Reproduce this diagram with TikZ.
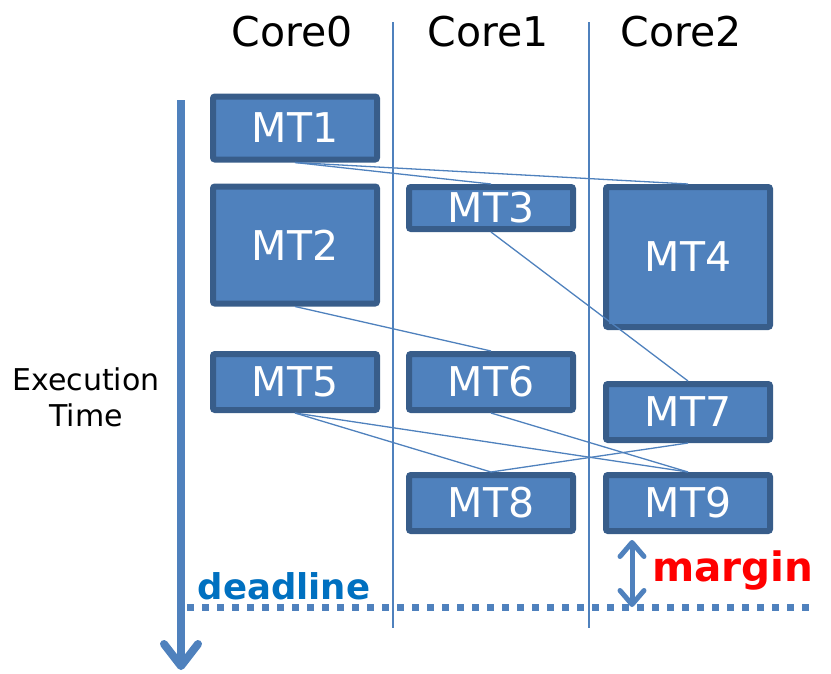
\documentclass[tikz,border=0pt]{standalone}
\usepackage{fontspec}
\setmainfont{DejaVu Sans}
\usetikzlibrary{arrows.meta}
\definecolor{taskfill}{HTML}{4F81BD}
\definecolor{taskline}{HTML}{385D8A}
\definecolor{deadblue}{HTML}{0070C0}
\tikzset{
  mt/.style={draw=taskline, fill=taskfill, line width=6pt, rounded corners=2pt,
    minimum width=164pt, inner sep=0pt, text=white, font=\fontsize{41}{44}\selectfont},
  core/.style={font=\fontsize{41}{44}\selectfont},
  dep/.style={draw=taskfill, line width=1.3pt},
  sep/.style={draw=taskfill, line width=1.5pt},
}
\begin{document}
\begin{tikzpicture}[x=1pt,y=-1pt]
      \useasboundingbox (0,0) rectangle (831,673);
      \draw
        (292,32) node[core] (c0){Core0}
        (488,32) node[core] (c1){Core1}
        (681,32) node[core] (c2){Core2}
        (86,397) node[align=center, font=\fontsize{30}{36}\selectfont] (et){Execution\\Time};
      \draw[sep] (393,22) -- (393,628);
      \draw[sep] (589,22) -- (589,628);
      \draw
        (295,128) node[mt, minimum height=63pt] (mt1){MT1}
        (295,245) node[mt, minimum height=117pt] (mt2){MT2}
        (491,208) node[mt, minimum height=42pt] (mt3){MT3}
        (688,257) node[mt, minimum height=140pt] (mt4){MT4}
        (295,382) node[mt, minimum height=56pt] (mt5){MT5}
        (491,382) node[mt, minimum height=56pt] (mt6){MT6}
        (688,412) node[mt, minimum height=56pt] (mt7){MT7}
        (491,503) node[mt, minimum height=56pt] (mt8){MT8}
        (688,503) node[mt, minimum height=56pt] (mt9){MT9};
      \begin{scope}[dep]
        \draw (mt1.south) to (mt3.north);
        \draw (mt1.south) to (mt4.north);
        \draw (mt2.south) to (mt6.north);
        \draw (mt3.south) to (mt7.north);
        \draw (mt5.south) to (mt8.north);
        \draw (mt5.south) to (mt9.north);
        \draw (mt6.south) to (mt9.north);
        \draw (mt7.south) to (mt8.north);
      \end{scope}
      % time axis and deadline
      \coordinate (t0) at (181,100);
      \coordinate (t1) at (181,670);
      \draw[taskfill, line width=8pt, -{Straight Barb[length=22pt, width=34pt, round]}] (t0) -- (t1);
      \coordinate (d0) at (187,607);
      \coordinate (d1) at (816,607);
      \draw[taskfill, line width=7pt, dash pattern=on 7pt off 8pt] (d0) -- (d1);
      \node[text=deadblue, font=\bfseries\fontsize{35.5}{37}\selectfont] (dl) at (284,586) {deadline};
      \coordinate (m0) at (632,540);
      \coordinate (m1) at (632,607);
      \draw[taskfill, line width=5pt, {Straight Barb[length=14pt, width=24pt, round]}-{Straight Barb[length=14pt, width=24pt, round]}] (m0) -- (m1);
      \node[text=red, font=\bfseries\fontsize{40.5}{42}\selectfont] (mg) at (733,570) {margin};
    \end{tikzpicture}
\end{document}
